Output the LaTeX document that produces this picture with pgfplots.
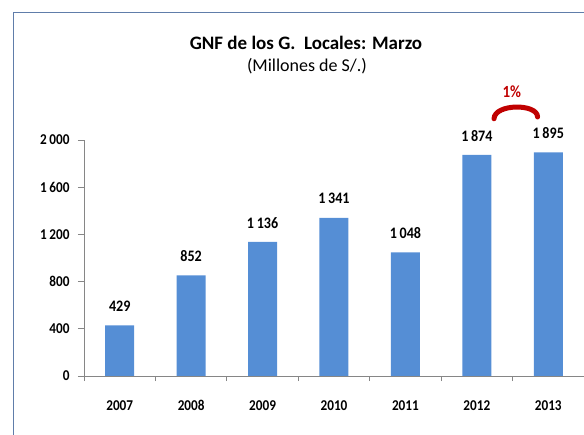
\documentclass[border=0pt]{standalone}
\usepackage{fontspec}
\setmainfont{Carlito}
\newfontfamily\condfont[FakeStretch=0.88]{Carlito}
\usepackage{pgfplots}
\pgfplotsset{compat=1.18}
\definecolor{barblue}{RGB}{85,142,213}
\definecolor{darkred}{RGB}{192,0,0}
\definecolor{framecol}{RGB}{96,125,170}
\definecolor{axisgray}{RGB}{134,134,134}

\begin{document}
\begin{tikzpicture}[x=1pt,y=1pt]
\useasboundingbox (0,0) rectangle (584,434);
\draw[framecol, line width=1.2pt] (13.5,-5) -- (13.5,421.5) -- (590,421.5);
\node[anchor=base, font=\bfseries\fontsize{19}{22}\selectfont] at (306,384) {GNF de los G.\ \ Locales: Marzo};
\node[anchor=base, font=\fontsize{18}{21}\selectfont] at (307,362) {(Millones de S/.)};
\begin{axis}[
  at={(84pt,58pt)}, anchor=south west,
  scale only axis, width=500pt, height=236pt,
  xmin=-0.5, xmax=6.5, ymin=0, ymax=2000,
  axis x line=bottom, axis y line=left,
  axis line style={axisgray, -, line width=0.8pt},
  ybar, bar width=29pt,
  xtick={0,...,6},
  xticklabels={2007,2008,2009,2010,2011,2012,2013},
  minor xtick={-0.5,0.5,...,6.5},
  ytick={0,400,...,2000},
  tick align=outside,
  major tick length=6pt, minor tick length=5pt,
  x tick style={draw=none},
  minor x tick style={draw=axisgray, line width=0.8pt},
  y tick style={axisgray, line width=0.8pt},
  /pgf/number format/assume math mode=true,
  /pgf/number format/1000 sep={\,},
  tick label style={font=\condfont\bfseries\fontsize{15}{17}\selectfont, text=black},
  xticklabel style={yshift=-15pt},
  yticklabel style={xshift=-5pt},
  nodes near coords,
  every node near coord/.append style={font=\condfont\bfseries\fontsize{16}{18}\selectfont, anchor=south, inner sep=0pt, yshift=13.5pt},
  clip=false,
]
\addplot[fill=barblue, draw=none] coordinates {
  (0,429) (1,852) (2,1136) (3,1341) (4,1048) (5,1874) (6,1895)
};
\draw[darkred, line width=5pt, line cap=round] (axis cs:5.24,2180) .. controls (axis cs:5.25,2310) and (axis cs:5.85,2310) .. (axis cs:5.85,2195);
\node[darkred, font=\condfont\bfseries\fontsize{17}{19}\selectfont] at (axis cs:5.49,2405) {1\%};
\end{axis}
\end{tikzpicture}
\end{document}
